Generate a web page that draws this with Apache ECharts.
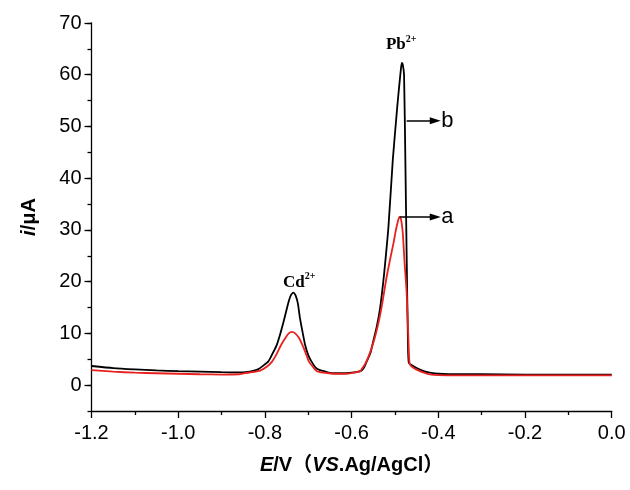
<!DOCTYPE html>
<html><head><meta charset="utf-8">
<script src="https://cdn.jsdelivr.net/npm/echarts@6/dist/echarts.min.js"></script>
<style>html,body{margin:0;padding:0;background:#fff}#c{width:630px;height:490px}</style>
</head><body><div id="c"></div>
<script>
// curve b (black)
const blackX = [-1.20,-1.15,-1.10,-1.05,-1.00,-0.95,-0.90,-0.86,-0.84,-0.83,-0.815,-0.805,-0.792,-0.783,-0.773,-0.765,-0.755,-0.745,-0.740,-0.734,-0.729,-0.724,-0.719,-0.713,-0.707,-0.700,-0.692,-0.683,-0.673,-0.660,-0.645,-0.620,-0.600,-0.590,-0.580,-0.576,-0.570,-0.565,-0.557,-0.550,-0.542,-0.535,-0.530,-0.525,-0.515,-0.505,-0.495,-0.490,-0.486,-0.484,-0.482,-0.479,-0.476,-0.473,-0.470,-0.468,-0.460,-0.450,-0.440,-0.430,-0.420,-0.400,-0.350,-0.300,-0.200,-0.100,0.000];
const blackY = [3.7,3.3,3.05,2.85,2.7,2.6,2.5,2.45,2.55,2.7,3.1,3.7,4.6,6.0,7.7,9.8,12.9,16.2,17.4,17.9,17.3,15.8,12.9,10.2,7.7,5.8,4.5,3.4,2.9,2.6,2.3,2.3,2.4,2.5,2.7,2.9,3.6,4.6,6.1,8.5,11.3,14.5,17.7,21.5,30.6,43.5,53.5,58.0,61.3,62.3,62.0,60.0,43.5,25.0,8.0,4.3,3.8,3.3,2.9,2.6,2.4,2.2,2.1,2.1,2.05,2.05,2.05];
// curve a (red)
const redX = [-1.20,-1.15,-1.10,-1.05,-1.00,-0.95,-0.90,-0.86,-0.847,-0.83,-0.811,-0.795,-0.784,-0.773,-0.763,-0.752,-0.745,-0.738,-0.730,-0.722,-0.713,-0.705,-0.698,-0.689,-0.680,-0.665,-0.653,-0.630,-0.610,-0.595,-0.580,-0.576,-0.570,-0.561,-0.546,-0.532,-0.519,-0.510,-0.503,-0.498,-0.494,-0.491,-0.489,-0.487,-0.485,-0.482,-0.478,-0.473,-0.469,-0.467,-0.465,-0.460,-0.450,-0.440,-0.430,-0.420,-0.400,-0.350,-0.300,-0.200,-0.100,0.000];
const redY = [2.9,2.6,2.4,2.3,2.2,2.1,2.05,2.1,2.3,2.5,2.8,3.6,4.5,6.0,7.7,9.2,10.0,10.3,10.0,9.2,7.7,6.0,4.5,3.5,2.7,2.4,2.3,2.2,2.2,2.4,2.7,3.2,3.9,5.5,9.3,14.5,21.0,24.8,27.6,29.9,31.4,32.3,32.5,32.3,31.6,29.5,24.0,17.8,9.0,4.8,3.9,3.5,3.0,2.6,2.3,2.1,1.95,1.9,1.9,1.9,1.9,1.9];
const yTickValues = [0,10,20,30,40,50,60,70];
const peakLabels = [
  {name:'Pb', coord:[-0.4855, 65.8]},
  {name:'Cd', coord:[-0.721, 19.9]}
];
const arrowB = {from:[-0.473, 51.1], to:[-0.407, 51.1], text:'b'};
const arrowA = {from:[-0.489, 32.5], to:[-0.407, 32.5], text:'a'};

const chart = echarts.init(document.getElementById('c'), null, {renderer:'canvas'});
const FONT = 'Liberation Sans, Arial, sans-serif';
const GRID = {left:91.5, right:18.3, top:23, bottom:79, containLabel:false};
function arrowLine(a){
  return [{coord:a.from, symbol:'none'},
          {coord:a.to, symbol:'triangle', symbolSize:[7,11], symbolRotate:-90,
           label:{show:true, position:'end', formatter:a.text, distance:6,
                  color:'#000', fontSize:22, fontFamily:FONT}}];
}
chart.setOption({
  animation:false,
  backgroundColor:'#fff',
  grid:[Object.assign({}, GRID), Object.assign({}, GRID)],
  xAxis:[{
    type:'value', min:-1.2, max:0, interval:0.2, gridIndex:0,
    axisLine:{show:true, onZero:false, lineStyle:{color:'#000', width:1.3}},
    axisTick:{show:true, length:7, lineStyle:{color:'#000', width:1.3}},
    minorTick:{show:true, splitNumber:2, length:4, lineStyle:{color:'#000', width:1.3}},
    splitLine:{show:false},
    axisLabel:{color:'#000', fontSize:20, fontFamily:FONT, margin:12,
      formatter:v=>v.toFixed(1)},
    name:'{i|E}{b|/V（}{i|VS}{b|.Ag/AgCl）}',
    nameLocation:'middle', nameGap:44,
    nameTextStyle:{rich:{
      i:{fontSize:20, fontWeight:'bold', fontStyle:'italic', fontFamily:FONT, color:'#000'},
      b:{fontSize:20, fontWeight:'bold', fontFamily:'Liberation Sans, Noto Sans CJK SC, sans-serif', color:'#000'}
    }}
  },{
    type:'value', min:-1.2, max:0, interval:0.2, gridIndex:1, show:false,
    axisLine:{onZero:false}
  }],
  yAxis:[{
    type:'value', min:-5, max:70, interval:5, gridIndex:0, position:'left',
    splitLine:{show:false},
    axisLine:{show:true, onZero:false, lineStyle:{color:'#000', width:1.3}},
    axisTick:{show:true, length:4, lineStyle:{color:'#000', width:1.3}},
    axisLabel:{show:false},
    name:'{i|i}{b|/μA}', nameLocation:'middle', nameGap:52, nameRotate:90,
    nameTextStyle:{rich:{
      i:{fontSize:20, fontWeight:'bold', fontStyle:'italic', fontFamily:FONT, color:'#000'},
      b:{fontSize:20, fontWeight:'bold', fontFamily:FONT, color:'#000'}
    }}
  },{
    type:'value', min:-5, max:70, gridIndex:1, position:'left',
    splitLine:{show:false},
    axisLine:{show:false, onZero:false},
    axisTick:{show:true, length:7, customValues:yTickValues, lineStyle:{color:'#000', width:1.3}},
    axisLabel:{show:true, customValues:yTickValues, color:'#000', fontSize:20, fontFamily:FONT, margin:10}
  }],
  series:[
    {
      type:'line', name:'b', xAxisIndex:0, yAxisIndex:0, showSymbol:false, symbol:'none',
      smooth:0.2,
      lineStyle:{color:'#000', width:1.8},
      data:blackX.map((x,i)=>[x, blackY[i]]),
      markLine:{silent:true, animation:false,
        lineStyle:{color:'#000', width:1.5, type:'solid'},
        data:[arrowLine(arrowB), arrowLine(arrowA)]},
      markPoint:{silent:true, symbol:'circle', symbolSize:0,
        data:peakLabels.map(p=>({coord:p.coord, name:p.name,
          label:{show:true, position:'inside', formatter:'{m|'+p.name+'}{s|2+}',
            rich:{
              m:{fontSize:17, fontWeight:'bold', fontFamily:'Liberation Serif, serif', color:'#000'},
              s:{fontSize:10, fontWeight:'bold', fontFamily:'Liberation Serif, serif', color:'#000', padding:[0,0,11,0]}
            }}}))}
    },
    {
      type:'line', name:'a', xAxisIndex:0, yAxisIndex:0, showSymbol:false, symbol:'none',
      smooth:0.2,
      lineStyle:{color:'#e8201f', width:1.8},
      data:redX.map((x,i)=>[x, redY[i]])
    }
  ]
});
</script></body></html>
